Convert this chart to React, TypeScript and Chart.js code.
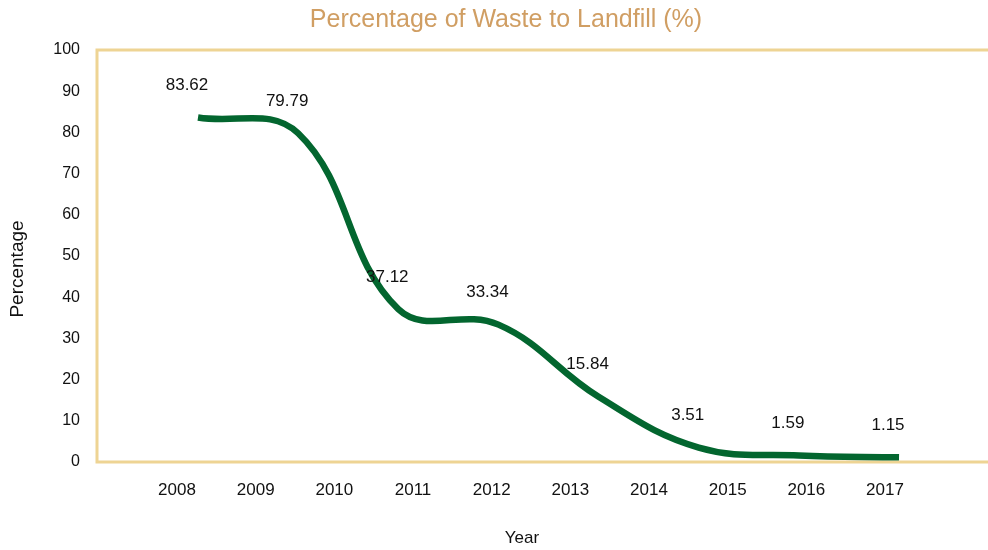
import React, { useEffect, useRef } from "react";
import { Chart, registerables } from "chart.js";

Chart.register(...registerables);

const years = ["2008", "2009", "2010", "2011", "2012", "2013", "2014", "2015", "2016", "2017"];
const values = [83.62, 79.79, 37.12, 33.34, 15.84, 3.51, 1.59, 1.15];
const yMin = 0;
const yMax = 100;
const yStep = 10;
const titleText = "Percentage of Waste to Landfill (%)";
const xTitle = "Year";
const yTitle = "Percentage";

const FONT = "'Liberation Sans', Arial, Helvetica, sans-serif";
const FRAME = "#eed494";
const GREEN = "#03662f";

const framePlugin = {
  id: "frame",
  beforeDatasetsDraw(chart: any) {
    const { ctx, chartArea } = chart;
    ctx.save();
    ctx.strokeStyle = FRAME;
    ctx.lineWidth = 3;
    ctx.beginPath();
    ctx.moveTo(chart.width + 5, chartArea.top);
    ctx.lineTo(chartArea.left, chartArea.top);
    ctx.lineTo(chartArea.left, chartArea.bottom);
    ctx.lineTo(chart.width + 5, chartArea.bottom);
    ctx.stroke();
    ctx.restore();
  },
};

const textPlugin = {
  id: "texts",
  afterDatasetsDraw(chart: any) {
    const { ctx } = chart;
    const meta = chart.getDatasetMeta(0);
    ctx.save();
    ctx.font = `17px ${FONT}`;
    ctx.fillStyle = "#111";
    ctx.textAlign = "center";
    ctx.textBaseline = "middle";
    meta.data.forEach((pt: any, i: number) => {
      ctx.fillText(values[i].toFixed(2), pt.x - 11, pt.y - 32);
    });
    // chart title
    ctx.font = `25px ${FONT}`;
    ctx.fillStyle = "#d09e63";
    ctx.fillText(titleText, 506, 20);
    // x title
    ctx.font = `17px ${FONT}`;
    ctx.fillStyle = "#111";
    ctx.fillText(xTitle, 522, 538);
    // y title
    ctx.translate(18, 269);
    ctx.rotate(-Math.PI / 2);
    ctx.font = `19px ${FONT}`;
    ctx.fillText(yTitle, 0, 0);
    ctx.restore();
  },
};

export default function App() {
  const ref = useRef<HTMLCanvasElement | null>(null);
  useEffect(() => {
    if (!ref.current) return;
    Chart.defaults.font.family = FONT;
    const chart = new Chart(ref.current, {
      type: "line",
      data: {
        datasets: [
          {
            data: values.map((v, i) => ({ x: i, y: v })),
            xAxisID: "x2",
            yAxisID: "y",
            borderColor: GREEN,
            borderWidth: 6.5,
            pointRadius: 0,
            tension: 0.4,
            fill: false,
          },
        ],
      },
      options: {
        responsive: false,
        animation: false,
        layout: { padding: { top: 50, right: 41, left: 0, bottom: 0 } },
        plugins: {
          legend: { display: false },
          tooltip: { enabled: false },
          title: { display: false },
        },
        scales: {
          x: {
            type: "linear",
            position: "bottom",
            min: -1.017,
            max: 9.788,
            afterBuildTicks: (s: any) => {
              s.ticks = years.map((_, i) => ({ value: i }));
            },
            afterFit: (s: any) => {
              s.height = 88;
            },
            ticks: {
              callback: (v: any) => years[v],
              color: "#111",
              font: { size: 17 },
              padding: 18,
              maxRotation: 0,
              autoSkip: false,
            },
            grid: { display: false, drawTicks: false },
            border: { display: false },
          },
          x2: {
            type: "linear",
            display: false,
            min: -1.0086,
            max: 7.479,
          },
          y: {
            type: "linear",
            min: yMin,
            max: yMax,
            afterFit: (s: any) => {
              s.width = 97;
            },
            ticks: {
              stepSize: yStep,
              color: "#111",
              font: { size: 16 },
              padding: 17,
            },
            grid: { display: false, drawTicks: false },
            border: { display: false },
          },
        },
      } as any,
      plugins: [framePlugin, textPlugin],
    });
    return () => chart.destroy();
  }, []);
  return (
    <div style={{ position: "absolute", left: 0, top: 0, width: 988, height: 550, background: "#fff" }}>
      <canvas ref={ref} width={988} height={550} style={{ width: 988, height: 550 }} />
    </div>
  );
}
